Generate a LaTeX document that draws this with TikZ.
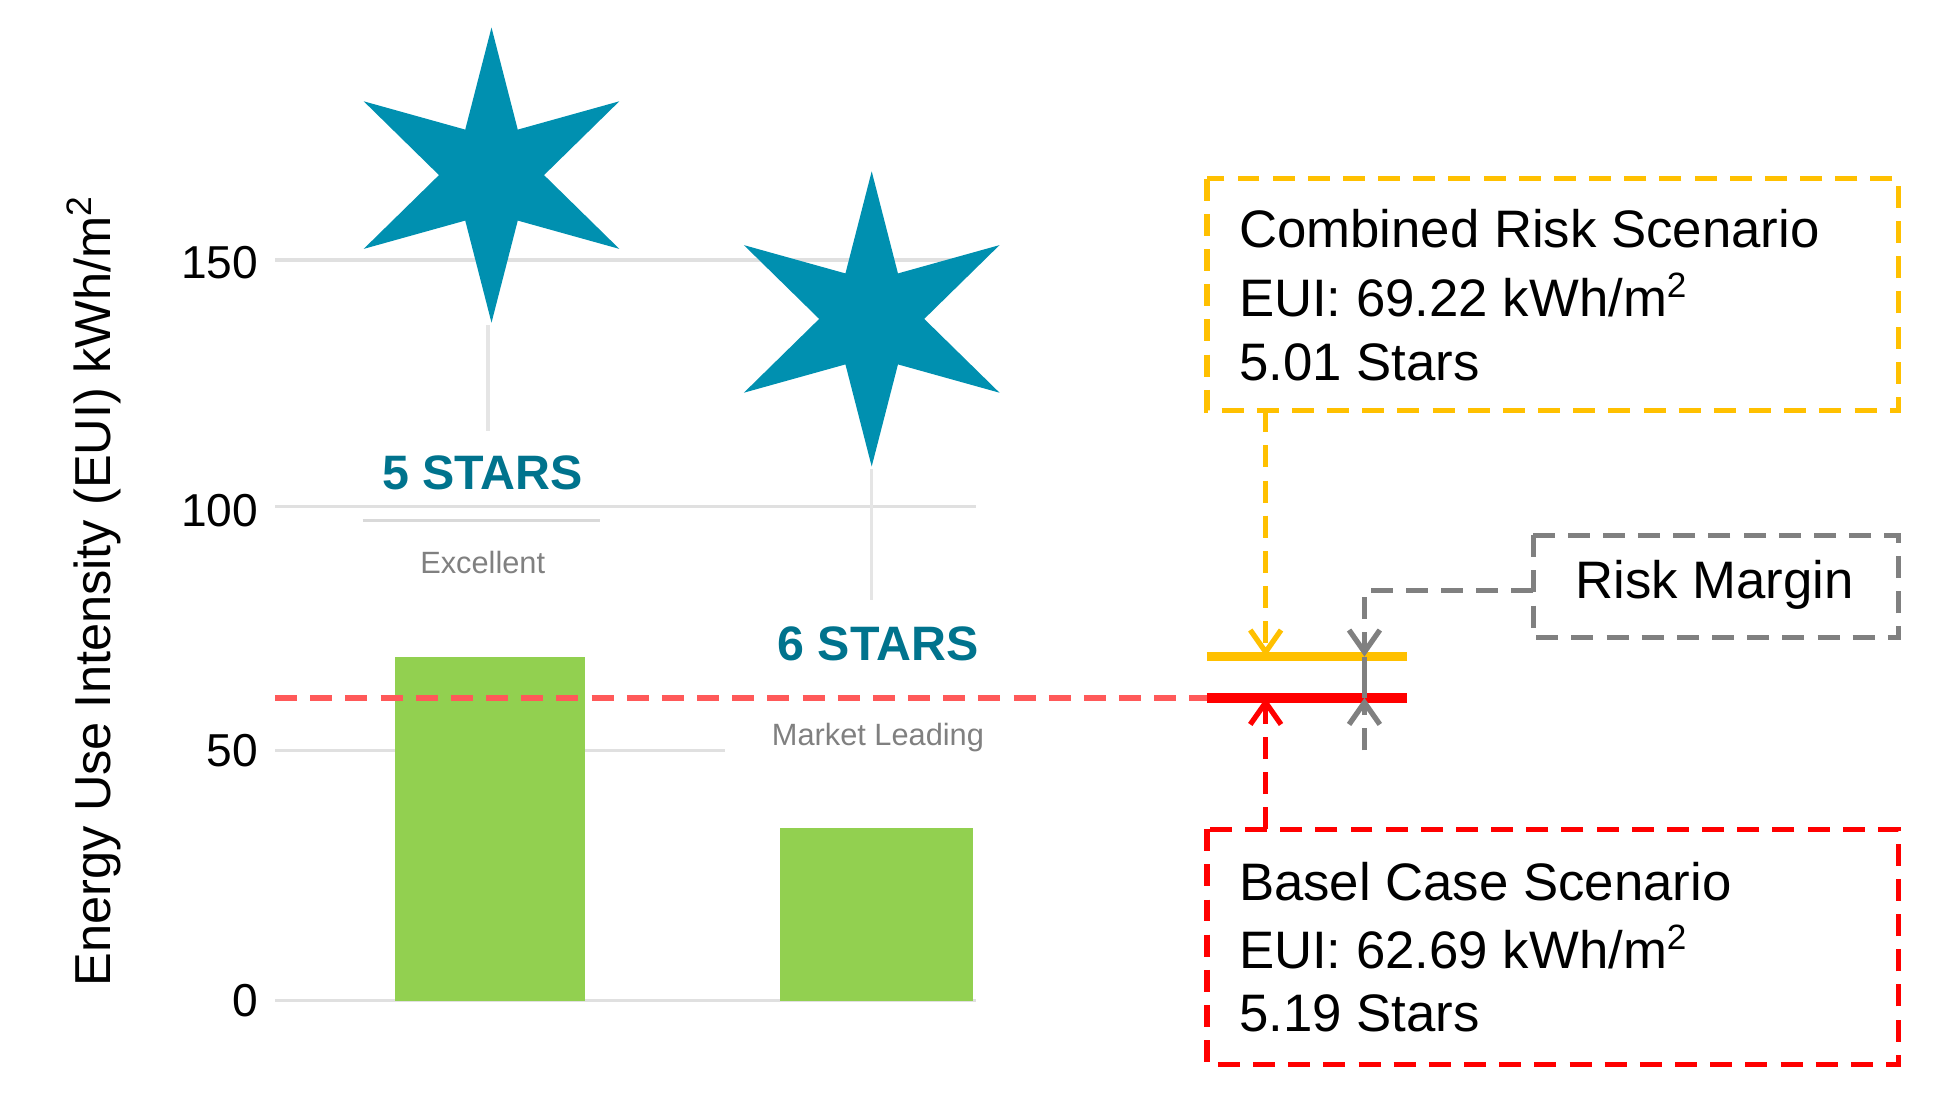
\documentclass[tikz,border=0pt]{standalone}
\usepackage{fontspec}
\setmainfont{Liberation Sans}
\usetikzlibrary{arrows.meta}
\definecolor{teal}{HTML}{0090B0}
\definecolor{barg}{HTML}{92D050}
\definecolor{orng}{HTML}{FFC000}
\begin{document}
\begin{tikzpicture}[x=0.1mm,y=-0.1mm,
  grid/.style={draw=black!12,line width=0.8pt},
  txt/.style={font=\fontsize{12}{14}\selectfont,anchor=west,inner sep=0},
  tick/.style={font=\fontsize{10.5}{12}\selectfont,anchor=east,inner sep=0},
  dsh/.style={dashed,dash pattern=on 5pt off 3pt,line width=1.2pt},
  starshape/.style={fill=teal},
  ar/.style={-{Straight Barb[length=5pt,width=7pt]}}]
\useasboundingbox (0,0) rectangle (1560,891);
% grid
\draw[grid] (220,208) -- (780,208);
\draw[grid] (220,405) -- (780,405);
\draw[grid] (220,600) -- (580,600);
\draw[grid] (220,800) -- (780,800);
\node[tick] (t0) at (207,800) {0};
\node[tick] (t50) at (207,600) {50};
\node[tick] (t100) at (207,408) {100};
\node[tick] (t150) at (207,210) {150};
\node[rotate=90,font=\fontsize{11.5}{14}\selectfont,inner sep=0] (yl) at (75,472) {Energy Use Intensity (EUI) kWh/m\textsuperscript{2}};
% faint lines
\draw[black!10,line width=0.8pt] (390,260) -- (390,345) (697,375) -- (697,480);
% bars
\fill[barg] (316,525) rectangle (468,800);
\fill[barg] (624,662) rectangle (778,800);
% stars
\fill[starshape] (393,140) +(90:118)
  \foreach \a in {0,60,...,300}{ -- +(90+\a:118) -- +(120+\a:42)} -- cycle;
\fill[starshape] (697,255) +(90:118)
  \foreach \a in {0,60,...,300}{ -- +(90+\a:118) -- +(120+\a:42)} -- cycle;
\node[font=\fontsize{11}{13}\selectfont\bfseries,text=teal!80!black] (s5) at (386,378) {5 STARS};
\draw[black!15,line width=0.8pt] (290,416) -- (480,416);
\node[font=\fontsize{7}{9}\selectfont,text=black!50] (e) at (386,450) {Excellent};
\node[font=\fontsize{11}{13}\selectfont\bfseries,text=teal!80!black] (s6) at (702,515) {6 STARS};
\node[font=\fontsize{7}{9}\selectfont,text=black!50] (m) at (702,590) {Market Leading};
% lines
\draw[dsh,red!65] (220,558) -- (965,558);
\coordinate (o1) at (965,525); \coordinate (o2) at (1125,525);
\coordinate (r1) at (965,558); \coordinate (r2) at (1125,558);
\draw[orng,line width=2.2pt] (o1) -- (o2);
\draw[red,line width=2.2pt] (r1) -- (r2);
% yellow box
\draw[dsh,orng] (965,143) rectangle (1518,328);
\node[txt] (c1) at (990,183) {Combined Risk Scenario};
\node[txt] (c2) at (990,236) {EUI: 69.22 kWh/m\textsuperscript{2}};
\node[txt] (c3) at (990,290) {5.01 Stars};
\coordinate (ya) at (1012,328); \coordinate (yb) at (1012,525);
\draw[dsh,orng,ar] (ya) -- (yb);
% red box
\draw[dsh,red] (965,663) rectangle (1518,851);
\node[txt] (b1) at (990,705) {Basel Case Scenario};
\node[txt] (b2) at (990,757) {EUI: 62.69 kWh/m\textsuperscript{2}};
\node[txt] (b3) at (990,810) {5.19 Stars};
\coordinate (ra) at (1012,663); \coordinate (rb) at (1012,558);
\draw[dsh,red,ar] (ra) -- (rb);
% gray box
\draw[dsh,black!50] (1226,428) rectangle (1518,510);
\node[font=\fontsize{12}{14}\selectfont,inner sep=0] (rm) at (1371,468) {Risk Margin};
\coordinate (g1) at (1226,472); \coordinate (g2) at (1091,525);
\coordinate (g3) at (1091,600); \coordinate (g4) at (1091,558);
\draw[dsh,black!50,ar] (g1) -| (g2);
\draw[black!50,line width=1.2pt] (g2) -- (g4);
\draw[dsh,black!50,ar] (g3) -- (g4);
\end{tikzpicture}
\end{document}
